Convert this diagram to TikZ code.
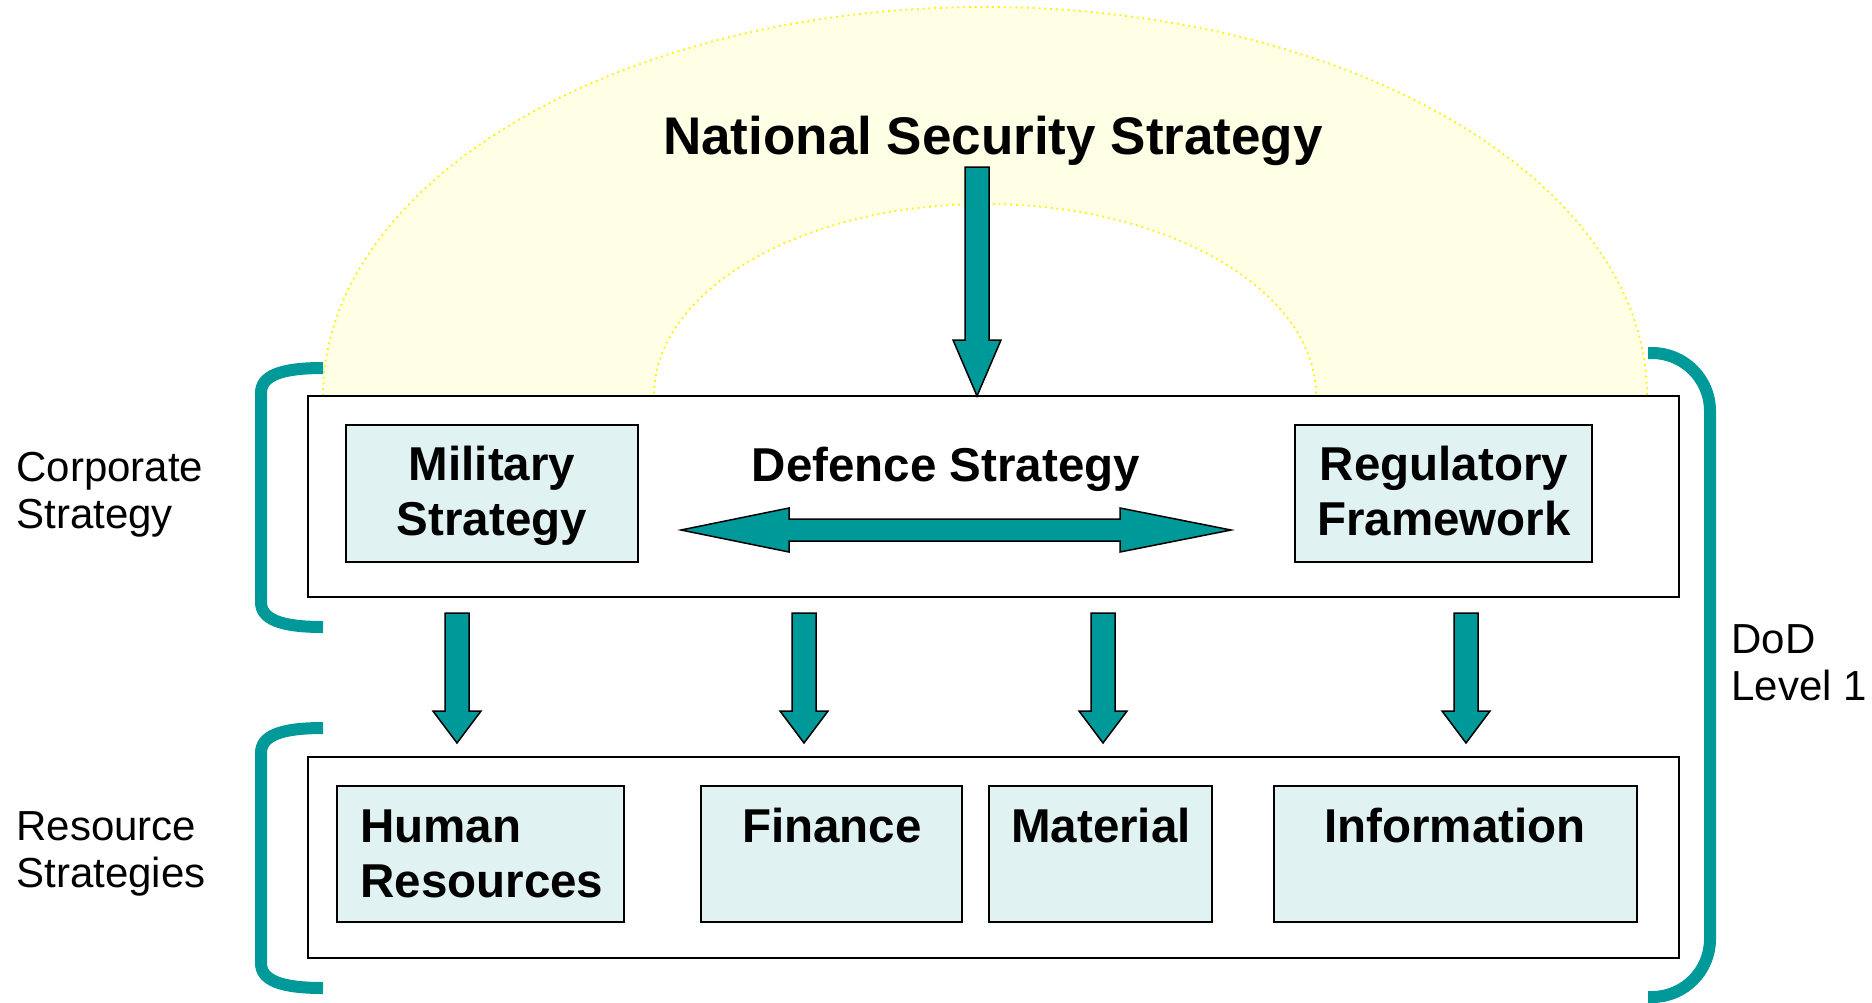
\documentclass[tikz,border=0pt]{standalone}
\usepackage{fontspec}
\setmainfont{Liberation Sans}
\usetikzlibrary{calc}
\definecolor{dodteal}{HTML}{009999}
\definecolor{paleblue}{HTML}{E0F2F2}
\definecolor{archyellow}{HTML}{FFFFE6}
\def\blockdown(#1,#2,#3,#4){\draw[blockarrow] (#1-12,#2) -- (#1+12,#2) -- (#1+12,#3) -- (#1+24,#3) -- (#1,#4) -- (#1-24,#3) -- (#1-12,#3) -- cycle;}

\begin{document}
\begin{tikzpicture}[x=0.5pt, y=-0.5pt,
	blockarrow/.style={draw=black, line width=0.75pt, fill=dodteal, line join=miter},
	framebox/.style={draw=black, line width=1pt, fill=white},
	itembox/.style={draw=black, line width=1pt, fill=paleblue},
	bracketline/.style={draw=dodteal, line width=6pt},
	itemtext/.style={font=\fontsize{23.75}{27.5}\selectfont\bfseries, inner sep=0pt},
	sidetext/.style={font=\fontsize{21}{23.5}\selectfont, inner sep=0pt, align=left, anchor=base west}]
	%%%%% START %%%%%
	\useasboundingbox (0,0) rectangle (1872,1002);
	
	% arch
	\draw[fill=archyellow, draw=yellow, dotted, line width=0.9pt] (323,396) arc[start angle=180, end angle=360, x radius=662, y radius=389]
		-- (1316,396) arc[start angle=0, end angle=-180, x radius=331, y radius=192] -- cycle;
	\node[font=\fontsize{26.5}{32}\selectfont\bfseries, inner sep=0pt, anchor=base] (nss) at (993,154) {National Security Strategy};
	
	% brackets
	\draw[bracketline] (323,368) .. controls (280,368) and (261,376) .. (261,393) -- (261,602) .. controls (261,619) and (280,627) .. (323,627);
	\draw[bracketline] (323,728) .. controls (280,728) and (261,736) .. (261,753) -- (261,963) .. controls (261,980) and (280,988) .. (323,988);
	\draw[bracketline, rounded corners=29pt] (1648,353) -- (1710,353) -- (1710,997) -- (1648,997);
	
	% corporate level
	\draw[framebox] (308,396) rectangle (1679,597);
	\draw[itembox] (346,425) rectangle (638,562);
	\draw[itembox] (1295,425) rectangle (1592,562);
	\node[itemtext, align=center, anchor=base] (military) at (492,535) {Military\\Strategy};
	\node[itemtext, align=center, anchor=base] (regulatory) at (1444,535) {Regulatory\\Framework};
	\node[itemtext, anchor=base] (defence) at (946,481) {Defence Strategy};
	\draw[blockarrow] (681,530) -- (789,508) -- (789,519) -- (1120,519) -- (1120,508) -- (1231,530)
		-- (1120,552) -- (1120,541) -- (789,541) -- (789,552) -- cycle;
	\blockdown(977,167,340,396)
	
	% resource level
	\blockdown(457,613,711,743)
	\blockdown(804,613,711,743)
	\blockdown(1103,613,711,743)
	\blockdown(1466,613,711,743)
	\draw[framebox] (308,757) rectangle (1679,958);
	\draw[itembox] (337,786) rectangle (624,922);
	\draw[itembox] (701,786) rectangle (962,922);
	\draw[itembox] (989,786) rectangle (1212,922);
	\draw[itembox] (1274,786) rectangle (1637,922);
	\node[itemtext, align=left, anchor=base west] (human) at (360,897) {Human\\Resources};
	\node[itemtext, anchor=base] (finance) at (832,842) {Finance};
	\node[itemtext, anchor=base] (material) at (1101,842) {Material};
	\node[itemtext, anchor=base] (information) at (1455,842) {Information};
	
	% side labels
	\node[sidetext] (corporate) at (16,528) {Corporate\\Strategy};
	\node[sidetext] (resource) at (16,887) {Resource\\Strategies};
	\node[sidetext] (dod) at (1731,700) {DoD\\Level 1};
	%%%%% END %%%%%
\end{tikzpicture}
\end{document}
